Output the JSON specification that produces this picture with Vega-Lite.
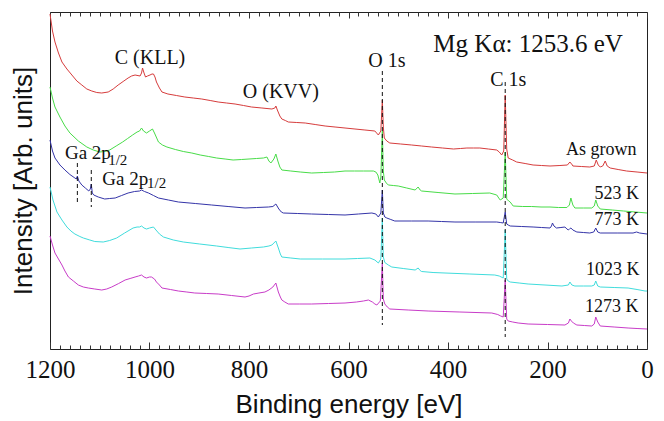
{
"$schema":"https://vega.github.io/schema/vega-lite/v6.json",
"width":597,"height":337,
"autosize":{"type":"none"},
"padding":{"left":50,"top":12,"right":17,"bottom":72},
"background":"white",
"config":{"view":{"stroke":"#222","strokeWidth":1},"axis":{"grid":false,"domain":false,"tickColor":"#333","tickWidth":1,"labelFont":"Liberation Serif","titleFont":"Liberation Sans"}},
"datasets":{
"spectra":[
{"s":"As grown","e":1200,"i":335},{"s":"As grown","e":1195,"i":318},{"s":"As grown","e":1190,"i":307},{"s":"As grown","e":1183,"i":296},{"s":"As grown","e":1176,"i":287},{"s":"As grown","e":1166,"i":280},{"s":"As grown","e":1156,"i":274},{"s":"As grown","e":1146,"i":268},{"s":"As grown","e":1136,"i":264},{"s":"As grown","e":1126,"i":260},{"s":"As grown","e":1116,"i":258},{"s":"As grown","e":1106,"i":256.5},{"s":"As grown","e":1096,"i":256},{"s":"As grown","e":1083,"i":257},{"s":"As grown","e":1073,"i":260},{"s":"As grown","e":1063,"i":264},{"s":"As grown","e":1053,"i":267.5},{"s":"As grown","e":1043,"i":271},{"s":"As grown","e":1036,"i":273},{"s":"As grown","e":1029,"i":274},{"s":"As grown","e":1019,"i":273},{"s":"As grown","e":1016,"i":276},{"s":"As grown","e":1014,"i":281},{"s":"As grown","e":1011,"i":276},{"s":"As grown","e":1008,"i":272},{"s":"As grown","e":1004,"i":273},{"s":"As grown","e":999,"i":274},{"s":"As grown","e":995,"i":275},{"s":"As grown","e":992,"i":275},{"s":"As grown","e":989,"i":272},{"s":"As grown","e":986,"i":267},{"s":"As grown","e":980,"i":261},{"s":"As grown","e":975,"i":257},{"s":"As grown","e":963,"i":255},{"s":"As grown","e":946,"i":253.5},{"s":"As grown","e":929,"i":252},{"s":"As grown","e":912,"i":251},{"s":"As grown","e":895,"i":250},{"s":"As grown","e":878,"i":248.5},{"s":"As grown","e":862,"i":247},{"s":"As grown","e":845,"i":246},{"s":"As grown","e":828,"i":245},{"s":"As grown","e":811,"i":243.5},{"s":"As grown","e":795,"i":242},{"s":"As grown","e":774,"i":241},{"s":"As grown","e":754,"i":240},{"s":"As grown","e":748,"i":241},{"s":"As grown","e":746,"i":243},{"s":"As grown","e":743,"i":239},{"s":"As grown","e":738,"i":233},{"s":"As grown","e":734,"i":230},{"s":"As grown","e":727,"i":228.5},{"s":"As grown","e":721,"i":227},{"s":"As grown","e":704,"i":226.5},{"s":"As grown","e":687,"i":226},{"s":"As grown","e":667,"i":224.5},{"s":"As grown","e":647,"i":223},{"s":"As grown","e":627,"i":222},{"s":"As grown","e":607,"i":221},{"s":"As grown","e":587,"i":220},{"s":"As grown","e":567,"i":219},{"s":"As grown","e":547,"i":218},{"s":"As grown","e":540,"i":214},{"s":"As grown","e":535,"i":218},{"s":"As grown","e":532,"i":249},{"s":"As grown","e":530,"i":222},{"s":"As grown","e":528,"i":211},{"s":"As grown","e":523,"i":208},{"s":"As grown","e":517,"i":206},{"s":"As grown","e":495,"i":205},{"s":"As grown","e":473,"i":204},{"s":"As grown","e":453,"i":203},{"s":"As grown","e":433,"i":202},{"s":"As grown","e":411,"i":201},{"s":"As grown","e":389,"i":200},{"s":"As grown","e":375,"i":200.5},{"s":"As grown","e":362,"i":201},{"s":"As grown","e":349,"i":201},{"s":"As grown","e":336,"i":201},{"s":"As grown","e":319,"i":200},{"s":"As grown","e":302,"i":199},{"s":"As grown","e":297,"i":197},{"s":"As grown","e":292,"i":194},{"s":"As grown","e":288,"i":198},{"s":"As grown","e":285,"i":254},{"s":"As grown","e":282,"i":200},{"s":"As grown","e":279,"i":191},{"s":"As grown","e":270,"i":189},{"s":"As grown","e":262,"i":187},{"s":"As grown","e":245,"i":185.5},{"s":"As grown","e":229,"i":184},{"s":"As grown","e":212,"i":183.5},{"s":"As grown","e":195,"i":183},{"s":"As grown","e":175,"i":183.5},{"s":"As grown","e":160,"i":184},{"s":"As grown","e":155,"i":187},{"s":"As grown","e":150,"i":184},{"s":"As grown","e":149,"i":183},{"s":"As grown","e":132,"i":182.5},{"s":"As grown","e":115,"i":182},{"s":"As grown","e":106,"i":183},{"s":"As grown","e":102,"i":189},{"s":"As grown","e":98,"i":184},{"s":"As grown","e":94,"i":182},{"s":"As grown","e":89,"i":183},{"s":"As grown","e":84,"i":188},{"s":"As grown","e":80,"i":183},{"s":"As grown","e":74,"i":181},{"s":"As grown","e":58,"i":179.5},{"s":"As grown","e":41,"i":178},{"s":"As grown","e":20,"i":177},{"s":"As grown","e":0,"i":176},
{"s":"523 K","e":1200,"i":262},{"s":"523 K","e":1195,"i":251},{"s":"523 K","e":1190,"i":242},{"s":"523 K","e":1185,"i":237},{"s":"523 K","e":1180,"i":232},{"s":"523 K","e":1170,"i":223},{"s":"523 K","e":1160,"i":216},{"s":"523 K","e":1143,"i":208},{"s":"523 K","e":1126,"i":202},{"s":"523 K","e":1113,"i":199},{"s":"523 K","e":1100,"i":197},{"s":"523 K","e":1090,"i":197.5},{"s":"523 K","e":1080,"i":199},{"s":"523 K","e":1067,"i":203},{"s":"523 K","e":1054,"i":207},{"s":"523 K","e":1044,"i":210.5},{"s":"523 K","e":1034,"i":214},{"s":"523 K","e":1025,"i":217},{"s":"523 K","e":1020,"i":218},{"s":"523 K","e":1016,"i":221},{"s":"523 K","e":1012,"i":218},{"s":"523 K","e":1006,"i":216},{"s":"523 K","e":1000,"i":218},{"s":"523 K","e":994,"i":220},{"s":"523 K","e":990,"i":216},{"s":"523 K","e":982,"i":207},{"s":"523 K","e":974,"i":204},{"s":"523 K","e":965,"i":202},{"s":"523 K","e":948,"i":199.5},{"s":"523 K","e":932,"i":197.5},{"s":"523 K","e":915,"i":196},{"s":"523 K","e":898,"i":194},{"s":"523 K","e":881,"i":192.5},{"s":"523 K","e":865,"i":191},{"s":"523 K","e":848,"i":190},{"s":"523 K","e":832,"i":189},{"s":"523 K","e":815,"i":189.5},{"s":"523 K","e":800,"i":190},{"s":"523 K","e":785,"i":190.5},{"s":"523 K","e":771,"i":191},{"s":"523 K","e":764,"i":192},{"s":"523 K","e":760,"i":188},{"s":"523 K","e":756,"i":186},{"s":"523 K","e":750,"i":190},{"s":"523 K","e":746,"i":195},{"s":"523 K","e":742,"i":188},{"s":"523 K","e":738,"i":182},{"s":"523 K","e":734,"i":179},{"s":"523 K","e":716,"i":178},{"s":"523 K","e":697,"i":177},{"s":"523 K","e":674,"i":176},{"s":"523 K","e":650,"i":176.5},{"s":"523 K","e":628,"i":177},{"s":"523 K","e":607,"i":178},{"s":"523 K","e":588,"i":178},{"s":"523 K","e":570,"i":178},{"s":"523 K","e":550,"i":178},{"s":"523 K","e":545,"i":177},{"s":"523 K","e":541,"i":174},{"s":"523 K","e":537,"i":166},{"s":"523 K","e":535,"i":172},{"s":"523 K","e":532,"i":218},{"s":"523 K","e":530,"i":178},{"s":"523 K","e":528,"i":169},{"s":"523 K","e":524,"i":166},{"s":"523 K","e":520,"i":164},{"s":"523 K","e":510,"i":163.5},{"s":"523 K","e":500,"i":163},{"s":"523 K","e":483,"i":161},{"s":"523 K","e":466,"i":159},{"s":"523 K","e":460,"i":162},{"s":"523 K","e":456,"i":159},{"s":"523 K","e":453,"i":158},{"s":"523 K","e":420,"i":156.5},{"s":"523 K","e":386,"i":155},{"s":"523 K","e":351,"i":155.5},{"s":"523 K","e":316,"i":156},{"s":"523 K","e":302,"i":154},{"s":"523 K","e":298,"i":151},{"s":"523 K","e":295,"i":149},{"s":"523 K","e":289,"i":151},{"s":"523 K","e":285,"i":197},{"s":"523 K","e":282,"i":150},{"s":"523 K","e":278,"i":148},{"s":"523 K","e":275,"i":147},{"s":"523 K","e":269,"i":143},{"s":"523 K","e":250,"i":142.5},{"s":"523 K","e":232,"i":142.5},{"s":"523 K","e":213,"i":142},{"s":"523 K","e":195,"i":142},{"s":"523 K","e":178,"i":141.5},{"s":"523 K","e":161,"i":141.5},{"s":"523 K","e":156,"i":144},{"s":"523 K","e":153,"i":151},{"s":"523 K","e":149,"i":144},{"s":"523 K","e":145,"i":141},{"s":"523 K","e":128,"i":141},{"s":"523 K","e":111,"i":141},{"s":"523 K","e":106,"i":143},{"s":"523 K","e":103,"i":149},{"s":"523 K","e":99,"i":143},{"s":"523 K","e":94,"i":140},{"s":"523 K","e":70,"i":139},{"s":"523 K","e":47,"i":138},{"s":"523 K","e":23,"i":137},{"s":"523 K","e":0,"i":136},
{"s":"773 K","e":1200,"i":209},{"s":"773 K","e":1195,"i":198},{"s":"773 K","e":1190,"i":191},{"s":"773 K","e":1180,"i":184},{"s":"773 K","e":1170,"i":179},{"s":"773 K","e":1160,"i":174.5},{"s":"773 K","e":1150,"i":171},{"s":"773 K","e":1147,"i":170},{"s":"773 K","e":1145,"i":173},{"s":"773 K","e":1142,"i":168},{"s":"773 K","e":1136,"i":164},{"s":"773 K","e":1129,"i":161},{"s":"773 K","e":1122,"i":158},{"s":"773 K","e":1119,"i":160},{"s":"773 K","e":1117,"i":165},{"s":"773 K","e":1115,"i":156},{"s":"773 K","e":1112,"i":154},{"s":"773 K","e":1103,"i":152},{"s":"773 K","e":1090,"i":150},{"s":"773 K","e":1080,"i":150.5},{"s":"773 K","e":1069,"i":151},{"s":"773 K","e":1056,"i":153.5},{"s":"773 K","e":1043,"i":156},{"s":"773 K","e":1030,"i":157.5},{"s":"773 K","e":1020,"i":158},{"s":"773 K","e":1016,"i":159},{"s":"773 K","e":1010,"i":157.5},{"s":"773 K","e":1002,"i":156},{"s":"773 K","e":992,"i":153.5},{"s":"773 K","e":982,"i":151},{"s":"773 K","e":962,"i":149},{"s":"773 K","e":942,"i":147},{"s":"773 K","e":908,"i":145.5},{"s":"773 K","e":875,"i":144},{"s":"773 K","e":842,"i":142.5},{"s":"773 K","e":808,"i":141},{"s":"773 K","e":785,"i":141.5},{"s":"773 K","e":761,"i":142},{"s":"773 K","e":752,"i":142.5},{"s":"773 K","e":746,"i":145},{"s":"773 K","e":740,"i":140},{"s":"773 K","e":735,"i":137},{"s":"773 K","e":731,"i":136},{"s":"773 K","e":702,"i":135.5},{"s":"773 K","e":674,"i":135},{"s":"773 K","e":640,"i":134.5},{"s":"773 K","e":607,"i":134},{"s":"773 K","e":580,"i":135},{"s":"773 K","e":553,"i":136},{"s":"773 K","e":545,"i":135},{"s":"773 K","e":540,"i":132},{"s":"773 K","e":535,"i":136},{"s":"773 K","e":532,"i":159},{"s":"773 K","e":530,"i":136},{"s":"773 K","e":527,"i":132},{"s":"773 K","e":523,"i":131},{"s":"773 K","e":515,"i":129.5},{"s":"773 K","e":507,"i":128},{"s":"773 K","e":473,"i":128},{"s":"773 K","e":440,"i":128},{"s":"773 K","e":413,"i":127.5},{"s":"773 K","e":386,"i":127},{"s":"773 K","e":344,"i":127},{"s":"773 K","e":302,"i":127},{"s":"773 K","e":295,"i":126.5},{"s":"773 K","e":289,"i":126},{"s":"773 K","e":285,"i":137},{"s":"773 K","e":282,"i":125},{"s":"773 K","e":279,"i":124},{"s":"773 K","e":275,"i":123},{"s":"773 K","e":252,"i":122.5},{"s":"773 K","e":229,"i":122},{"s":"773 K","e":212,"i":121.5},{"s":"773 K","e":195,"i":121},{"s":"773 K","e":192,"i":123},{"s":"773 K","e":190,"i":126},{"s":"773 K","e":187,"i":123},{"s":"773 K","e":182,"i":121},{"s":"773 K","e":173,"i":121.5},{"s":"773 K","e":165,"i":122},{"s":"773 K","e":161,"i":120},{"s":"773 K","e":158,"i":119},{"s":"773 K","e":155,"i":120.5},{"s":"773 K","e":153,"i":121},{"s":"773 K","e":149,"i":119},{"s":"773 K","e":141,"i":117},{"s":"773 K","e":128,"i":116.5},{"s":"773 K","e":115,"i":116},{"s":"773 K","e":107,"i":117},{"s":"773 K","e":103,"i":121},{"s":"773 K","e":99,"i":117},{"s":"773 K","e":94,"i":116},{"s":"773 K","e":60,"i":116},{"s":"773 K","e":28,"i":116},{"s":"773 K","e":21,"i":117},{"s":"773 K","e":15,"i":116},{"s":"773 K","e":0,"i":115},
{"s":"1023 K","e":1200,"i":162},{"s":"1023 K","e":1194,"i":149},{"s":"1023 K","e":1186,"i":137},{"s":"1023 K","e":1176,"i":129},{"s":"1023 K","e":1166,"i":122},{"s":"1023 K","e":1158,"i":118},{"s":"1023 K","e":1150,"i":115},{"s":"1023 K","e":1140,"i":112.5},{"s":"1023 K","e":1133,"i":111},{"s":"1023 K","e":1120,"i":109},{"s":"1023 K","e":1110,"i":107.5},{"s":"1023 K","e":1093,"i":107},{"s":"1023 K","e":1080,"i":108.5},{"s":"1023 K","e":1066,"i":111},{"s":"1023 K","e":1050,"i":116},{"s":"1023 K","e":1033,"i":121},{"s":"1023 K","e":1025,"i":122},{"s":"1023 K","e":1020,"i":122},{"s":"1023 K","e":1016,"i":123},{"s":"1023 K","e":1011,"i":121},{"s":"1023 K","e":1006,"i":120},{"s":"1023 K","e":1000,"i":121},{"s":"1023 K","e":992,"i":122},{"s":"1023 K","e":987,"i":119},{"s":"1023 K","e":980,"i":115},{"s":"1023 K","e":972,"i":112},{"s":"1023 K","e":952,"i":109},{"s":"1023 K","e":932,"i":107},{"s":"1023 K","e":899,"i":105},{"s":"1023 K","e":865,"i":103},{"s":"1023 K","e":842,"i":101.5},{"s":"1023 K","e":818,"i":100},{"s":"1023 K","e":795,"i":101},{"s":"1023 K","e":771,"i":102},{"s":"1023 K","e":760,"i":103},{"s":"1023 K","e":754,"i":104},{"s":"1023 K","e":746,"i":108},{"s":"1023 K","e":741,"i":101},{"s":"1023 K","e":737,"i":95},{"s":"1023 K","e":734,"i":92},{"s":"1023 K","e":716,"i":91},{"s":"1023 K","e":697,"i":90},{"s":"1023 K","e":652,"i":90},{"s":"1023 K","e":607,"i":90},{"s":"1023 K","e":582,"i":90.5},{"s":"1023 K","e":557,"i":91},{"s":"1023 K","e":547,"i":89},{"s":"1023 K","e":540,"i":86},{"s":"1023 K","e":535,"i":90},{"s":"1023 K","e":532,"i":131},{"s":"1023 K","e":530,"i":92},{"s":"1023 K","e":527,"i":86.5},{"s":"1023 K","e":520,"i":84},{"s":"1023 K","e":513,"i":82},{"s":"1023 K","e":490,"i":80.5},{"s":"1023 K","e":466,"i":79},{"s":"1023 K","e":460,"i":81},{"s":"1023 K","e":456,"i":78.5},{"s":"1023 K","e":453,"i":77.5},{"s":"1023 K","e":430,"i":76.5},{"s":"1023 K","e":406,"i":76},{"s":"1023 K","e":356,"i":75},{"s":"1023 K","e":306,"i":74},{"s":"1023 K","e":297,"i":73},{"s":"1023 K","e":289,"i":71},{"s":"1023 K","e":285,"i":119},{"s":"1023 K","e":282,"i":70},{"s":"1023 K","e":279,"i":68},{"s":"1023 K","e":275,"i":67},{"s":"1023 K","e":257,"i":66},{"s":"1023 K","e":239,"i":65},{"s":"1023 K","e":205,"i":64},{"s":"1023 K","e":171,"i":63},{"s":"1023 K","e":158,"i":64},{"s":"1023 K","e":155,"i":67},{"s":"1023 K","e":151,"i":64},{"s":"1023 K","e":145,"i":63},{"s":"1023 K","e":128,"i":63},{"s":"1023 K","e":111,"i":63},{"s":"1023 K","e":106,"i":64},{"s":"1023 K","e":103,"i":68},{"s":"1023 K","e":99,"i":63},{"s":"1023 K","e":94,"i":62},{"s":"1023 K","e":66,"i":61.5},{"s":"1023 K","e":38,"i":61},{"s":"1023 K","e":20,"i":59.5},{"s":"1023 K","e":4,"i":58},{"s":"1023 K","e":0,"i":58},
{"s":"1273 K","e":1200,"i":113},{"s":"1273 K","e":1195,"i":104},{"s":"1273 K","e":1190,"i":96},{"s":"1273 K","e":1183,"i":90},{"s":"1273 K","e":1176,"i":84},{"s":"1273 K","e":1170,"i":78},{"s":"1273 K","e":1163,"i":72},{"s":"1273 K","e":1153,"i":68},{"s":"1273 K","e":1143,"i":64},{"s":"1273 K","e":1133,"i":62},{"s":"1273 K","e":1123,"i":61},{"s":"1273 K","e":1110,"i":60},{"s":"1273 K","e":1096,"i":59},{"s":"1273 K","e":1086,"i":60},{"s":"1273 K","e":1076,"i":62},{"s":"1273 K","e":1062,"i":65.5},{"s":"1273 K","e":1049,"i":69},{"s":"1273 K","e":1039,"i":70.5},{"s":"1273 K","e":1029,"i":72},{"s":"1273 K","e":1022,"i":73},{"s":"1273 K","e":1016,"i":74},{"s":"1273 K","e":1011,"i":72},{"s":"1273 K","e":1006,"i":71},{"s":"1273 K","e":1000,"i":72},{"s":"1273 K","e":996,"i":72},{"s":"1273 K","e":990,"i":70},{"s":"1273 K","e":986,"i":67},{"s":"1273 K","e":980,"i":64},{"s":"1273 K","e":975,"i":61},{"s":"1273 K","e":958,"i":59.5},{"s":"1273 K","e":942,"i":58},{"s":"1273 K","e":925,"i":57},{"s":"1273 K","e":909,"i":56},{"s":"1273 K","e":885,"i":55.5},{"s":"1273 K","e":862,"i":55},{"s":"1273 K","e":835,"i":53.5},{"s":"1273 K","e":808,"i":52},{"s":"1273 K","e":800,"i":53},{"s":"1273 K","e":791,"i":55},{"s":"1273 K","e":780,"i":56},{"s":"1273 K","e":768,"i":57},{"s":"1273 K","e":760,"i":59},{"s":"1273 K","e":752,"i":62},{"s":"1273 K","e":746,"i":66},{"s":"1273 K","e":741,"i":57},{"s":"1273 K","e":737,"i":52},{"s":"1273 K","e":734,"i":49},{"s":"1273 K","e":728,"i":47},{"s":"1273 K","e":721,"i":45},{"s":"1273 K","e":698,"i":45},{"s":"1273 K","e":674,"i":45},{"s":"1273 K","e":640,"i":45.5},{"s":"1273 K","e":607,"i":46},{"s":"1273 K","e":584,"i":47},{"s":"1273 K","e":570,"i":48},{"s":"1273 K","e":560,"i":49},{"s":"1273 K","e":552,"i":47},{"s":"1273 K","e":547,"i":45},{"s":"1273 K","e":543,"i":44},{"s":"1273 K","e":536,"i":48},{"s":"1273 K","e":532,"i":86},{"s":"1273 K","e":530,"i":50},{"s":"1273 K","e":527,"i":45},{"s":"1273 K","e":522,"i":42},{"s":"1273 K","e":517,"i":40},{"s":"1273 K","e":480,"i":39},{"s":"1273 K","e":440,"i":38},{"s":"1273 K","e":376,"i":37},{"s":"1273 K","e":312,"i":36},{"s":"1273 K","e":300,"i":34.5},{"s":"1273 K","e":294,"i":33},{"s":"1273 K","e":289,"i":32},{"s":"1273 K","e":285,"i":69},{"s":"1273 K","e":282,"i":30},{"s":"1273 K","e":279,"i":28},{"s":"1273 K","e":270,"i":27},{"s":"1273 K","e":259,"i":26},{"s":"1273 K","e":239,"i":25},{"s":"1273 K","e":200,"i":24.5},{"s":"1273 K","e":165,"i":24},{"s":"1273 K","e":158,"i":26},{"s":"1273 K","e":155,"i":30},{"s":"1273 K","e":152,"i":28},{"s":"1273 K","e":148,"i":26},{"s":"1273 K","e":141,"i":24},{"s":"1273 K","e":126,"i":23.5},{"s":"1273 K","e":111,"i":23},{"s":"1273 K","e":106,"i":25},{"s":"1273 K","e":103,"i":32},{"s":"1273 K","e":99,"i":27},{"s":"1273 K","e":94,"i":23},{"s":"1273 K","e":66,"i":22},{"s":"1273 K","e":38,"i":21},{"s":"1273 K","e":20,"i":20.5},{"s":"1273 K","e":0,"i":20}
],
"markers":[{"e":532,"i":278,"i2":24},{"e":285,"i":267,"i2":12},{"e":1145,"i":186,"i2":147},{"e":1117,"i":179,"i2":142}],
"labels":[{"t":"C (KLL)","e":999,"i":291},{"t":"O (KVV)","e":736,"i":257},{"t":"O 1s","e":523,"i":288},{"t":"C 1s","e":279,"i":269}],
"title":[{"t":"Mg Kα: 1253.6 eV","e":239,"i":305}],
"samples":[{"t":"As grown","e":92,"i":199},{"t":"523 K","e":61,"i":155},{"t":"773 K","e":61,"i":129},{"t":"1023 K","e":69,"i":79},{"t":"1273 K","e":71,"i":42}],
"ga":[{"t":"Ga 2p","e":1170,"i":190},{"t":"Ga 2p","e":1095,"i":164}],
"gasub":[{"t":"1/2","e":1083,"i":184},{"t":"1/2","e":1005,"i":161}]
},
"resolve":{"axis":{"x":"independent","y":"independent"}},
"layer":[
{"data":{"name":"spectra"},"mark":{"type":"line","strokeWidth":1,"interpolate":"linear"},
 "encoding":{
  "x":{"field":"e","type":"quantitative","scale":{"domain":[0,1200],"reverse":true,"nice":false,"zero":false},
   "axis":{"orient":"bottom","values":[0,200,400,600,800,1000,1200],"tickSize":-7,"labelPadding":15,"labelFont":"Liberation Serif","labelFontSize":25,"labelColor":"#111","labelFlush":false,"labelOverlap":false,"format":"d","title":"Binding energy [eV]","titleFont":"Liberation Sans","titleFontSize":26,"titleFontWeight":"normal","titleColor":"#111","titlePadding":9}},
  "y":{"field":"i","type":"quantitative","scale":{"domain":[0,337],"nice":false,"zero":false},
   "axis":{"title":"Intensity [Arb. units]","ticks":false,"labels":false,"domain":false,"titleFont":"Liberation Sans","titleFontSize":26,"titleFontWeight":"normal","titleColor":"#111","titlePadding":14}},
  "color":{"field":"s","type":"nominal","scale":{"domain":["As grown","523 K","773 K","1023 K","1273 K"],"range":["#d63c3c","#48dc48","#3434a8","#40dcdc","#c83cc8"]},"legend":null}
 }},
{"data":{"name":"markers"},"mark":{"type":"rule","strokeDash":[4,3],"strokeWidth":1,"color":"#111"},
 "encoding":{
  "x":{"field":"e","type":"quantitative","axis":{"orient":"bottom","values":[20,40,60,80,100,120,140,160,180,220,240,260,280,300,320,340,360,380,420,440,460,480,500,520,540,560,580,620,640,660,680,700,720,740,760,780,820,840,860,880,900,920,940,960,980,1020,1040,1060,1080,1100,1120,1140,1160,1180],"tickSize":-4,"labels":false,"title":null}},
  "y":{"field":"i","type":"quantitative","axis":null},
  "y2":{"field":"i2"}
 }},
{"data":{"name":"labels"},"mark":{"type":"text","font":"Liberation Serif","fontSize":20,"color":"#111","align":"center","baseline":"middle"},
 "encoding":{
  "x":{"field":"e","type":"quantitative","axis":{"orient":"top","values":[0,200,400,600,800,1000,1200],"tickSize":-6,"labels":false,"title":null}},
  "y":{"field":"i","type":"quantitative","axis":null},
  "text":{"field":"t"}
 }},
{"data":{"name":"title"},"mark":{"type":"text","font":"Liberation Serif","fontSize":25,"color":"#111","align":"center","baseline":"middle"},
 "encoding":{
  "x":{"field":"e","type":"quantitative","axis":{"orient":"top","values":[20,40,60,80,100,120,140,160,180,220,240,260,280,300,320,340,360,380,420,440,460,480,500,520,540,560,580,620,640,660,680,700,720,740,760,780,820,840,860,880,900,920,940,960,980,1020,1040,1060,1080,1100,1120,1140,1160,1180],"tickSize":-4,"labels":false,"title":null}},
  "y":{"field":"i","type":"quantitative","axis":null},
  "text":{"field":"t"}
 }},
{"data":{"name":"samples"},"mark":{"type":"text","font":"Liberation Serif","fontSize":18,"color":"#111","align":"center","baseline":"middle"},
 "encoding":{
  "x":{"field":"e","type":"quantitative","axis":null},
  "y":{"field":"i","type":"quantitative","axis":null},
  "text":{"field":"t"}
 }},
{"data":{"name":"ga"},"mark":{"type":"text","font":"Liberation Serif","fontSize":19,"color":"#111","align":"left","baseline":"alphabetic"},
 "encoding":{
  "x":{"field":"e","type":"quantitative","axis":null},
  "y":{"field":"i","type":"quantitative","axis":null},
  "text":{"field":"t"}
 }},
{"data":{"name":"gasub"},"mark":{"type":"text","font":"Liberation Serif","fontSize":15,"color":"#111","align":"left","baseline":"alphabetic"},
 "encoding":{
  "x":{"field":"e","type":"quantitative","axis":null},
  "y":{"field":"i","type":"quantitative","axis":null},
  "text":{"field":"t"}
 }}
]
}
